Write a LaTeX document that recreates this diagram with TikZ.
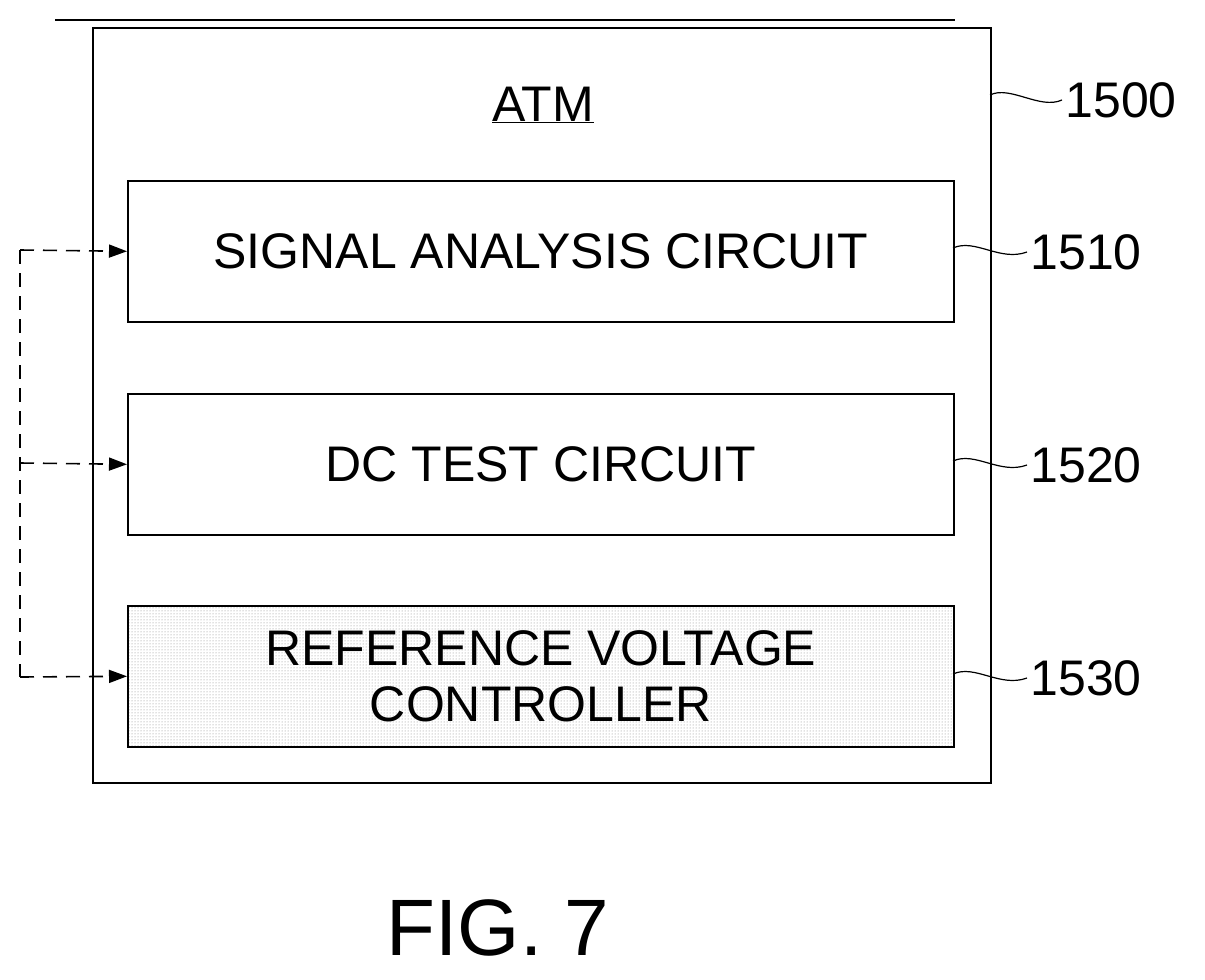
\documentclass[tikz,border=0pt]{standalone}
\usepackage{fontspec}
\setmainfont{Liberation Sans}
\usetikzlibrary{patterns,arrows.meta}
\begin{document}
\begin{tikzpicture}[x=1pt,y=-1pt,
  box/.style={draw,line width=1.6pt},
  lbl/.style={font=\fontsize{50}{56}\selectfont},
  num/.style={font=\fontsize{50}{56}\selectfont,anchor=west},
  sq/.style={line width=1.2pt},
  dsh/.style={line width=1.6pt,dash pattern=on 14pt off 9pt},
  arr/.style={dsh,-{Triangle[length=18pt,width=13pt]}}]
\useasboundingbox (0,0) rectangle (1205,980);
\draw[line width=1.2pt] (55,20) -- (955,20);
\node[box,minimum width=898pt,minimum height=755pt,anchor=north west] (atm) at (92,27) {};
\node[lbl] (atmt) at (543,105) {\underline{ATM}};
\node[box,minimum width=826pt,minimum height=141pt,anchor=north west] (b1) at (127,180) {};
\node[lbl] at (b1) {SIGNAL ANALYSIS CIRCUIT};
\node[box,minimum width=826pt,minimum height=141pt,anchor=north west] (b2) at (127,393) {};
\node[lbl] at (b2) {DC TEST CIRCUIT};
\node[box,minimum width=826pt,minimum height=141pt,anchor=north west,pattern=dots,pattern color=gray] (b3) at (127,605) {};
\node[lbl,align=center] at (b3) {\fontsize{50}{62}\selectfont REFERENCE VOLTAGE\\CONTROLLER};
\coordinate (t) at (20,250);
\coordinate (m) at (20,463);
\coordinate (bt) at (20,677);
\draw[dsh] (t) -- (bt);
\draw[arr] (t) -- (b1.west);
\draw[arr] (m) -- (b2.west);
\draw[arr] (bt) -- (b3.west);
\node[num] (n0) at (1062,100) {1500};
\node[num] (n1) at (1027,252) {1510};
\node[num] (n2) at (1027,465) {1520};
\node[num] (n3) at (1027,678) {1530};
\draw[sq] (990,95) .. controls (1010,85) and (1040,110) .. (n0.west);
\draw[sq] (953,248) .. controls (975,238) and (1000,262) .. (n1.west);
\draw[sq] (953,461) .. controls (975,451) and (1000,475) .. (n2.west);
\draw[sq] (953,674) .. controls (975,664) and (1000,688) .. (n3.west);
\node[font=\fontsize{80}{90}\selectfont] (fig) at (498,928) {FIG. 7};
\end{tikzpicture}
\end{document}
